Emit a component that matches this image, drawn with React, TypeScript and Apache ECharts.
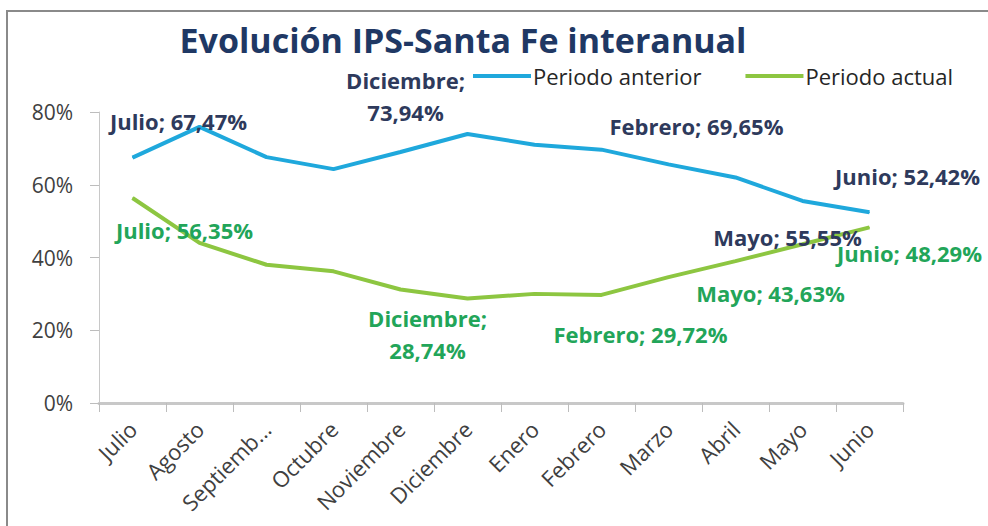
import React, { useEffect, useRef } from "react";
import * as echarts from "echarts";

const categories = ["Julio", "Agosto", "Septiembre", "Octubre", "Noviembre", "Diciembre", "Enero", "Febrero", "Marzo", "Abril", "Mayo", "Junio"];
const periodoAnterior = [67.47, 75.9, 67.6, 64.3, 69.0, 73.94, 71.0, 69.65, 65.6, 62.0, 55.55, 52.42];
const periodoActual = [56.35, 44.0, 38.0, 36.2, 31.2, 28.74, 30.0, 29.72, 34.6, 39.0, 43.63, 48.29];
const yTicks = [0, 20, 40, 60, 80];

// label placement (offsets from the point, and whether the name breaks onto a new line)
const anteriorLabels: Record<number, { off: [number, number]; br?: boolean }> = {
  0: { off: [46, -37] },
  5: { off: [-62, -38], br: true },
  7: { off: [95, -24] },
  10: { off: [-15, 36] },
  11: { off: [38, -36] },
};
const actualLabels: Record<number, { off: [number, number]; br?: boolean }> = {
  0: { off: [52, 32] },
  5: { off: [-40, 36], br: true },
  7: { off: [39, 39] },
  10: { off: [-32, 49] },
  11: { off: [40, 26] },
};

const FONT = "Open Sans";
const fmt = (v: number) => v.toFixed(2).replace(".", ",") + "%";

function buildData(values: number[], labels: Record<number, { off: [number, number]; br?: boolean }>, color: string) {
  return values.map((v, i) => {
    const l = labels[i];
    if (!l) return { value: v, label: { show: false } };
    return {
      value: v,
      label: {
        show: true,
        position: "inside",
        offset: l.off,
        color,
        fontFamily: FONT,
        fontWeight: "bold",
        fontSize: 22,
        lineHeight: 32,
        formatter: () => categories[i] + ";" + (l.br ? "\n" : " ") + fmt(v),
      },
    };
  });
}

export default function App() {
  const ref = useRef<HTMLDivElement>(null);
  useEffect(() => {
    if (!ref.current) return;
    const chart = echarts.init(ref.current, null, { renderer: "svg" });
    chart.setOption({
      animation: false,
      backgroundColor: "#ffffff",
      graphic: [
        {
          type: "rect",
          shape: { x: 7, y: 11, width: 1000, height: 600 },
          style: { fill: "none", stroke: "#8a8a8a", lineWidth: 2 },
          silent: true,
        },
      ],
      title: {
        text: "Evolución IPS-Santa Fe interanual",
        left: 458,
        textAlign: "center",
        top: 18,
        textStyle: { fontFamily: FONT, fontWeight: "bold", fontSize: 34, color: "#1F3864" },
      },
      legend: {
        left: 468,
        top: 60,
        itemWidth: 58,
        itemHeight: 4,
        itemGap: 44,
        icon: "rect",
        textStyle: { fontFamily: FONT, fontSize: 22, color: "#262626", padding: [0, 0, 0, -3] },
        data: ["Periodo anterior", "Periodo actual"],
      },
      grid: { left: 99, right: 85, top: 112, bottom: 123, containLabel: false },
      xAxis: {
        type: "category",
        data: categories,
        boundaryGap: true,
        axisLine: { lineStyle: { color: "#c8c8c8", width: 3 } },
        axisTick: { show: true, length: 9, lineStyle: { color: "#bdbdbd", width: 1 } },
        axisLabel: {
          rotate: 45,
          margin: 22,
          fontFamily: FONT,
          fontSize: 22,
          color: "#404040",
          formatter: (s: string) => (s.length > 9 ? s.slice(0, 8) + "..." : s),
        },
      },
      yAxis: {
        type: "value",
        min: yTicks[0],
        max: yTicks[yTicks.length - 1],
        interval: 20,
        splitLine: { show: false },
        axisLine: { show: true, lineStyle: { color: "#c8c8c8", width: 1 } },
        axisTick: { show: true, length: 9, lineStyle: { color: "#bdbdbd" } },
        axisLabel: { margin: 26, fontFamily: FONT, fontSize: 21, color: "#404040", formatter: "{value}%" },
      },
      series: [
        {
          name: "Periodo anterior",
          type: "line",
          data: buildData(periodoAnterior, anteriorLabels, "#2E3A5C"),
          symbol: "circle",
          symbolSize: 1,
          showSymbol: true,
          color: "#1FA8DC",
          lineStyle: { width: 4, color: "#1FA8DC" },
          itemStyle: { color: "#1FA8DC" },
          z: 3,
        },
        {
          name: "Periodo actual",
          type: "line",
          data: buildData(periodoActual, actualLabels, "#22A559"),
          symbol: "circle",
          symbolSize: 1,
          showSymbol: true,
          color: "#8DC641",
          lineStyle: { width: 4, color: "#8DC641" },
          itemStyle: { color: "#8DC641" },
          z: 2,
        },
      ],
    });
    return () => chart.dispose();
  }, []);
  return <div ref={ref} style={{ position: "absolute", left: 0, top: 0, width: 988, height: 526 }} />;
}
